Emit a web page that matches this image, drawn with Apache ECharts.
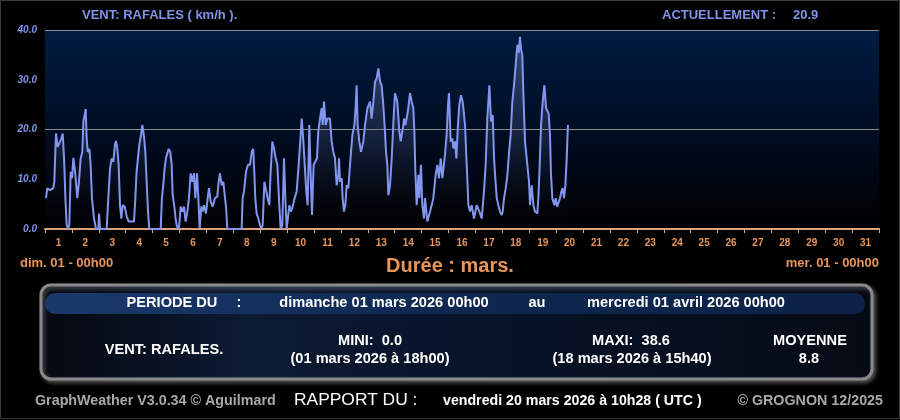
<!DOCTYPE html>
<html>
<head>
<meta charset="utf-8">
<script src="https://cdn.jsdelivr.net/npm/echarts@6/dist/echarts.min.js"></script>
<style>
  html, body { margin: 0; padding: 0; background: #000; }
  #chart { width: 900px; height: 420px; }
</style>
</head>
<body>
<div id="chart"></div>
<script>
// day labels of the month (march 2026)
const dayLabels = ["1","2","3","4","5","6","7","8","9","10","11","12","13","14","15","16",
  "17","18","19","20","21","22","23","24","25","26","27","28","29","30","31"];
const yTicks = [0, 10, 20, 30, 40];

// hours since 01 mars 00h00
const gustHours = [
  0.9, 2.1, 4.5, 7.4, 8.3, 9.8, 11.3, 12.8, 14.3, 15.8, 17.0, 18.2, 19.3, 20.5, 21.7, 22.9,
  24.1, 25.3, 26.8, 27.9, 28.8, 30.3, 31.8, 33.3, 34.2, 35.4, 36.3, 37.2, 38.1, 39.6, 40.7, 41.9,
  43.7, 45.5, 47.6, 48.2, 49.1, 55.0, 56.5, 58.0, 59.5, 61.0, 62.4, 63.3, 64.5, 65.7, 66.9, 68.1,
  69.3, 71.1, 72.9, 74.7, 79.4,
  80.6, 81.7, 82.9, 84.1, 85.6, 86.8, 87.7, 88.6, 89.5, 90.7, 91.9, 93.0, 103.2, 104.3, 105.5, 106.7,
  107.9, 109.1, 110.3, 111.8, 113.0, 113.9, 115.4, 116.5, 117.7, 119.5, 121.0, 122.5, 124.0, 125.5,
  127.0, 128.4, 129.9, 131.4, 132.9, 134.1, 135.6, 136.8, 138.0, 139.4, 140.6, 141.8, 143.6, 145.1,
  146.3, 147.8, 149.6, 151.6, 153.7, 154.9, 156.1, 157.6,
  159.1, 160.6, 161.5, 162.6, 175.4, 176.3, 177.5, 179.3, 181.1, 182.9, 184.4, 185.8, 186.7, 187.6,
  188.8, 190.3, 191.8, 193.0, 194.2, 195.7, 197.1, 198.6, 200.1, 201.3, 202.8, 204.3, 205.8, 207.3,
  208.7, 210.2, 211.7, 213.2, 214.4, 215.6, 218.0, 219.4, 220.9, 222.7, 224.5, 226.3, 227.5, 229.0,
  230.5, 231.9, 233.1, 234.3, 235.8, 237.0, 238.2,
  238.8, 239.7, 241.2, 242.6, 243.8, 245.3, 246.8, 247.7, 248.9, 250.4, 251.9, 254.2, 255.7, 257.2,
  258.7, 260.2, 261.7, 262.3, 263.2, 264.7, 265.5, 266.7, 267.9, 269.1, 270.6, 272.1, 274.2, 276.0,
  277.1, 278.0, 278.9, 280.4, 281.9, 284.0, 285.5, 287.6, 289.9, 291.4, 292.9, 294.4, 295.9, 297.4,
  298.9, 300.3, 301.8, 303.3, 304.2, 305.4, 306.3, 307.8, 309.3, 310.8, 312.2, 314.3, 316.1, 317.3,
  319.7,
  320.3, 321.5, 322.6, 324.1, 325.6, 327.1, 328.6, 329.5, 330.4, 331.6, 333.1, 334.0, 335.4, 336.6,
  338.1, 339.0, 341.1, 343.5, 345.0, 346.4, 348.5, 350.0, 351.5, 353.0, 354.5, 356.8, 358.3, 359.5,
  360.4, 361.9, 363.4, 364.3, 365.8, 367.0, 368.4, 369.6, 371.1, 372.6, 374.7, 376.2, 377.7, 379.2,
  380.6, 382.7, 385.1, 387.5, 389.6, 391.6, 393.1, 394.6, 396.4, 397.9, 399.4,
  400.6, 401.5, 403.0, 404.4, 405.9, 407.4, 408.3, 409.5, 411.0, 412.5, 414.0, 415.4, 416.9, 418.4,
  419.9, 420.8, 421.5, 422.6, 423.7, 424.8, 425.8, 426.7, 428.2, 429.7, 430.9, 431.8, 432.7, 434.2,
  435.7, 437.1, 439.2, 440.1, 441.0, 442.5, 444.0, 445.5, 447.0, 448.2, 449.3, 450.5, 451.4, 452.6,
  454.4, 455.6, 456.8, 458.0, 459.5, 460.6, 461.8, 463.0, 464.2, 465.4, 466.5
];
// gusts, km/h
const gustKmh = [
  6.2, 8.2, 7.8, 8.2, 9.5, 19.2, 16.5, 16.2, 18.0, 19.2, 14.2, 6.2, 0.8, 0, 0.8, 11.5,
  10.2, 14.3, 11.5, 8.8, 6.2, 9.5, 14.2, 15.5, 21.6, 22.9, 24.1, 18.2, 15.5, 16.1, 12.9, 6.2,
  2.1, 0, 0, 3.1, 0, 0, 6.2, 12.2, 14.2, 13.5, 16.9, 17.7, 16.2, 12.9, 4.8, 2.1,
  4.8, 4.5, 2.5, 1.5, 1.5,
  6.2, 11.5, 14.2, 16.9, 18.9, 20.9, 19.6, 17.9, 15.5, 9.5, 3.5, 0, 0, 6.2, 8.8, 12.2,
  14.2, 15.2, 16.1, 15.5, 12.9, 6.8, 4.5, 2.1, 0.5, 0, 4.5, 3.5, 4.5, 1.5,
  3.5, 6.2, 11.2, 9.5, 11.2, 6.2, 11.2, 6.2, 0, 4.5, 3.5, 4.8, 3.1, 6.2,
  8.2, 5.5, 4.5, 6.2, 6.5, 9.5, 11.2, 8.8,
  9.5, 6.2, 4.5, 0, 0, 6.2, 7.5, 11.5, 12.9, 12.9, 15.5, 16.1, 11.5, 6.2,
  3.1, 2.1, 0.8, 0, 0.8, 9.5, 9.2, 6.2, 4.8, 11.5, 17.6, 16.2, 14.2, 12.9,
  6.2, 0, 0.8, 14.2, 6.2, 0, 4.8, 3.5, 4.5, 6.2, 7.5, 12.9, 16.9, 22.2,
  17.6, 12.2, 7.5, 4.8, 20.9, 10.9, 2.8,
  7.5, 12.9, 12.9, 14.2, 19.6, 22.2, 24.3, 20.9, 25.6, 20.9, 22.2, 22.2, 17.6, 15.5,
  14.2, 8.8, 10.9, 14.2, 9.5, 10.2, 6.2, 3.5, 4.8, 8.8, 8.2, 12.9, 18.9, 20.9,
  24.3, 28.9, 20.9, 17.6, 15.5, 17.6, 20.9, 24.3, 25.6, 22.2, 25.6, 29.6, 30.3, 32.3,
  29.6, 28.9, 24.9, 19.6, 15.5, 12.9, 6.8, 8.8, 14.2, 21.6, 27.3, 25.6, 19.6, 17.6,
  20.9,
  22.2, 20.9, 22.2, 24.3, 27.3, 25.6, 24.3, 19.6, 11.5, 4.8, 10.9, 6.2, 12.9, 4.8,
  2.1, 6.2, 1.5, 3.5, 4.8, 6.2, 10.9, 12.9, 10.2, 14.2, 10.2, 14.9, 18.9, 24.9,
  27.3, 17.6, 18.2, 16.2, 17.6, 14.2, 20.9, 24.9, 26.9, 25.6, 20.9, 12.9, 4.8, 3.5,
  4.8, 2.1, 4.8, 3.5, 2.1, 7.5, 12.9, 22.2, 28.9, 21.6, 22.9,
  14.2, 10.9, 6.2, 4.8, 3.5, 2.8, 3.5, 6.2, 8.2, 10.9, 15.5, 18.9, 25.6, 28.9,
  33.0, 35.6, 37.0, 35.4, 38.6, 36.0, 35.0, 27.6, 17.6, 14.2, 11.5, 9.5, 4.8, 8.8,
  4.8, 3.5, 3.1, 6.2, 10.9, 20.9, 25.6, 28.9, 24.3, 23.9, 23.2, 18.9, 10.9, 6.2,
  4.8, 6.2, 4.5, 4.8, 6.2, 7.5, 8.2, 6.2, 8.8, 14.2, 20.9
];

const blue = "#8193e6";
const orange = "#e8955a";
const font = "'Liberation Sans', Arial, sans-serif";

function txt(text, x, y, fill, size, opts) {
  opts = opts || {};
  return {
    type: "text", z: 10,
    style: {
      text: text, x: x, y: y, fill: fill,
      font: (opts.italic ? "italic " : "") + (opts.normal ? "normal " : "bold ") + size + "px " + font,
      textAlign: opts.align || "left", textVerticalAlign: "middle"
    }
  };
}

const chart = echarts.init(document.getElementById("chart"));
chart.setOption({
  backgroundColor: "#000",
  animation: false,
  grid: {
    left: 45, right: 21, top: 30, bottom: 191,
    show: true, borderWidth: 0,
    backgroundColor: {
      type: "linear", x: 0, y: 0, x2: 0, y2: 1,
      colorStops: [{ offset: 0, color: "#001c42" }, { offset: 0.6, color: "#000a1c" }, { offset: 1, color: "#000000" }]
    }
  },
  xAxis: [
    {
      type: "category", data: dayLabels, boundaryGap: true, position: "bottom",
      axisLine: { lineStyle: { color: "#e0a47a", width: 2 } },
      axisTick: { show: true, length: 4, alignWithLabel: false, lineStyle: { color: "#e0a47a" } },
      axisLabel: { color: orange, fontSize: 10, fontWeight: "bold", fontFamily: font, margin: 9 },
      splitLine: { show: false }
    },
    { type: "value", min: 0, max: 744, show: false }
  ],
  yAxis: {
    type: "value", min: yTicks[0], max: yTicks[yTicks.length - 1], interval: 10,
    axisLine: { show: false }, axisTick: { show: false },
    axisLabel: {
      color: blue, fontSize: 10, fontWeight: "bold", fontStyle: "italic", fontFamily: font, margin: 8,
      formatter: v => v.toFixed(1)
    },
    splitLine: {
      show: true,
      lineStyle: { color: ["rgba(0,0,0,0)", "rgba(0,0,0,0)", "#8a8a8a", "rgba(0,0,0,0)", "#8a8a8a"], width: 1 }
    }
  },
  series: [{
    type: "line", xAxisIndex: 1,
    data: gustHours.map((h, i) => [h, gustKmh[i]]),
    symbol: "none",
    lineStyle: { color: "#8296f0", width: 2 },
    areaStyle: {
      color: {
        type: "linear", x: 0, y: 0, x2: 0, y2: 1,
        colorStops: [{ offset: 0, color: "rgba(150,165,215,0.5)" }, { offset: 0.55, color: "rgba(90,105,160,0.3)" },
                     { offset: 1, color: "rgba(0,0,0,0.05)" }]
      }
    }
  }],
  graphic: [
    { type: "rect", z: 1, shape: { x: 0.5, y: 0.5, width: 899, height: 418 },
      style: { fill: "none", stroke: "#3a3a3a", lineWidth: 1 } },
    txt("VENT: RAFALES ( km/h ).", 82, 15, blue, 13),
    txt("ACTUELLEMENT :", 662, 15, blue, 13),
    txt("20.9", 793, 15, blue, 13),
    txt("dim. 01 - 00h00", 20, 263, orange, 13),
    txt("Durée : mars.", 450, 266, orange, 20, { align: "center" }),
    txt("mer. 01 - 00h00", 879, 263, orange, 13, { align: "right" }),
    { type: "rect", z: 5, shape: { x: 41, y: 285, width: 831, height: 94, r: 10 },
      style: {
        fill: { type: "linear", x: 0, y: 0, x2: 1, y2: 0,
          colorStops: [{ offset: 0, color: "#05080f" }, { offset: 0.25, color: "#0c1a33" },
                       { offset: 0.6, color: "#081226" }, { offset: 1, color: "#050a14" }] },
        stroke: "#8a8a8a", lineWidth: 3,
        shadowBlur: 4, shadowOffsetX: 2, shadowOffsetY: 2, shadowColor: "rgba(140,140,140,0.6)"
      } },
    { type: "rect", z: 6, shape: { x: 45, y: 293, width: 820, height: 21, r: 10 },
      style: {
        fill: { type: "linear", x: 0, y: 0, x2: 1, y2: 0,
          colorStops: [{ offset: 0, color: "#1a3a6c" }, { offset: 0.5, color: "#0f2750" }, { offset: 1, color: "#0c2246" }] }
      } },
    txt("PERIODE DU", 172, 303, "#fff", 14.6, { align: "center" }),
    txt(":", 239, 303, "#fff", 14.6, { align: "center" }),
    txt("dimanche 01 mars 2026 00h00", 384, 303, "#fff", 14.6, { align: "center" }),
    txt("au", 537, 303, "#fff", 14.6, { align: "center" }),
    txt("mercredi 01 avril 2026 00h00", 686, 303, "#fff", 14.6, { align: "center" }),
    txt("VENT: RAFALES.", 164, 350, "#fff", 14.6, { align: "center" }),
    txt("MINI:  0.0", 370, 341, "#fff", 14.6, { align: "center" }),
    txt("(01 mars 2026 à 18h00)", 370, 359, "#fff", 14.6, { align: "center" }),
    txt("MAXI:  38.6", 631, 341, "#fff", 14.6, { align: "center" }),
    txt("(18 mars 2026 à 15h40)", 632, 359, "#fff", 14.6, { align: "center" }),
    txt("MOYENNE", 810, 341, "#fff", 14.6, { align: "center" }),
    txt("8.8", 809, 359, "#fff", 14.6, { align: "center" }),
    txt("GraphWeather V3.0.34 © Aguilmard", 35, 401, "#a8a8a8", 14.3),
    txt("RAPPORT DU :", 294, 400, "#fff", 17.4, { normal: true }),
    txt("vendredi 20 mars 2026 à 10h28 ( UTC )", 443, 401, "#fff", 14.2),
    txt("© GROGNON 12/2025", 883, 401, "#a8a8a8", 14.3, { align: "right" })
  ]
});
</script>
</body>
</html>
